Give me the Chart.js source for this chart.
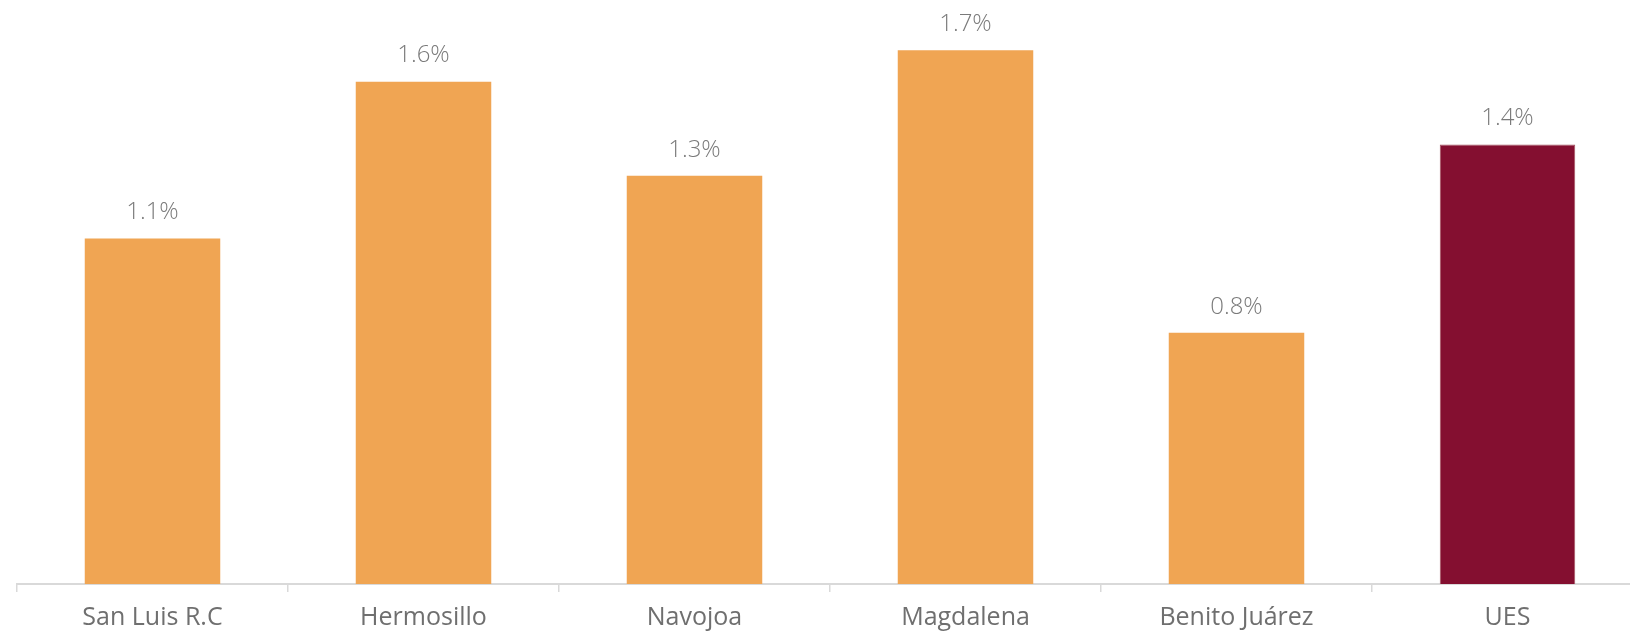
<!DOCTYPE html>
<html>
<head>
<meta charset="utf-8">
<script src="https://cdn.jsdelivr.net/npm/chart.js@4"></script>
<style>
  html, body { margin: 0; padding: 0; background: #fff; overflow: hidden; }
  #wrap { width: 1643px; height: 631px; position: relative; }
</style>
</head>
<body>
<div id="wrap"><canvas id="chart"></canvas></div>
<script>
const categories = ['San Luis R.C', 'Hermosillo', 'Navojoa', 'Magdalena', 'Benito Juárez', 'UES'];
const values = [1.1, 1.6, 1.3, 1.7, 0.8, 1.4];
const barColors = ['#F0A553', '#F0A553', '#F0A553', '#F0A553', '#F0A553', '#840F30'];
const borderColors = ['#F0A553', '#F0A553', '#F0A553', '#F0A553', '#F0A553', '#A5535F'];
const borderWidths = [0, 0, 0, 0, 0, 1];

const fontFamily = '"Open Sans", "DejaVu Sans", sans-serif';

// value labels above the bars
const valueLabels = {
  id: 'valueLabels',
  afterDatasetsDraw(chart) {
    const ctx = chart.ctx;
    const meta = chart.getDatasetMeta(0);
    ctx.save();
    ctx.font = '300 24px ' + fontFamily;
    ctx.fillStyle = '#7a7a7a';
    ctx.textAlign = 'center';
    ctx.textBaseline = 'middle';
    meta.data.forEach((bar, i) => {
      ctx.fillText(values[i].toFixed(1) + '%', bar.x, bar.y - 26);
    });
    ctx.restore();
  }
};

new Chart(document.getElementById('chart'), {
  type: 'bar',
  data: {
    labels: categories,
    datasets: [{
      data: values,
      backgroundColor: barColors,
      borderColor: borderColors,
      borderWidth: borderWidths,
      categoryPercentage: 1,
      barPercentage: 0.5,
    }],
  },
  options: {
    responsive: true,
    maintainAspectRatio: false,
    animation: false,
    layout: { padding: { left: 17, right: 0, top: 0, bottom: -13 } },
    plugins: { legend: { display: false }, tooltip: { enabled: false } },
    scales: {
      x: {
        grid: {
          display: true,
          drawOnChartArea: false,
          offset: true,
          tickLength: 8,
          color: '#d9d9d9',
          lineWidth: 1.5,
        },
        border: { display: true, color: '#d9d9d9', width: 2 },
        ticks: {
          color: '#6f6f6f',
          font: { family: fontFamily, size: 25 },
          padding: 11,
          maxRotation: 0,
        },
      },
      y: {
        display: false,
        min: 0,
        max: 1.86,
      },
    },
  },
  plugins: [valueLabels],
});
</script>
</body>
</html>
